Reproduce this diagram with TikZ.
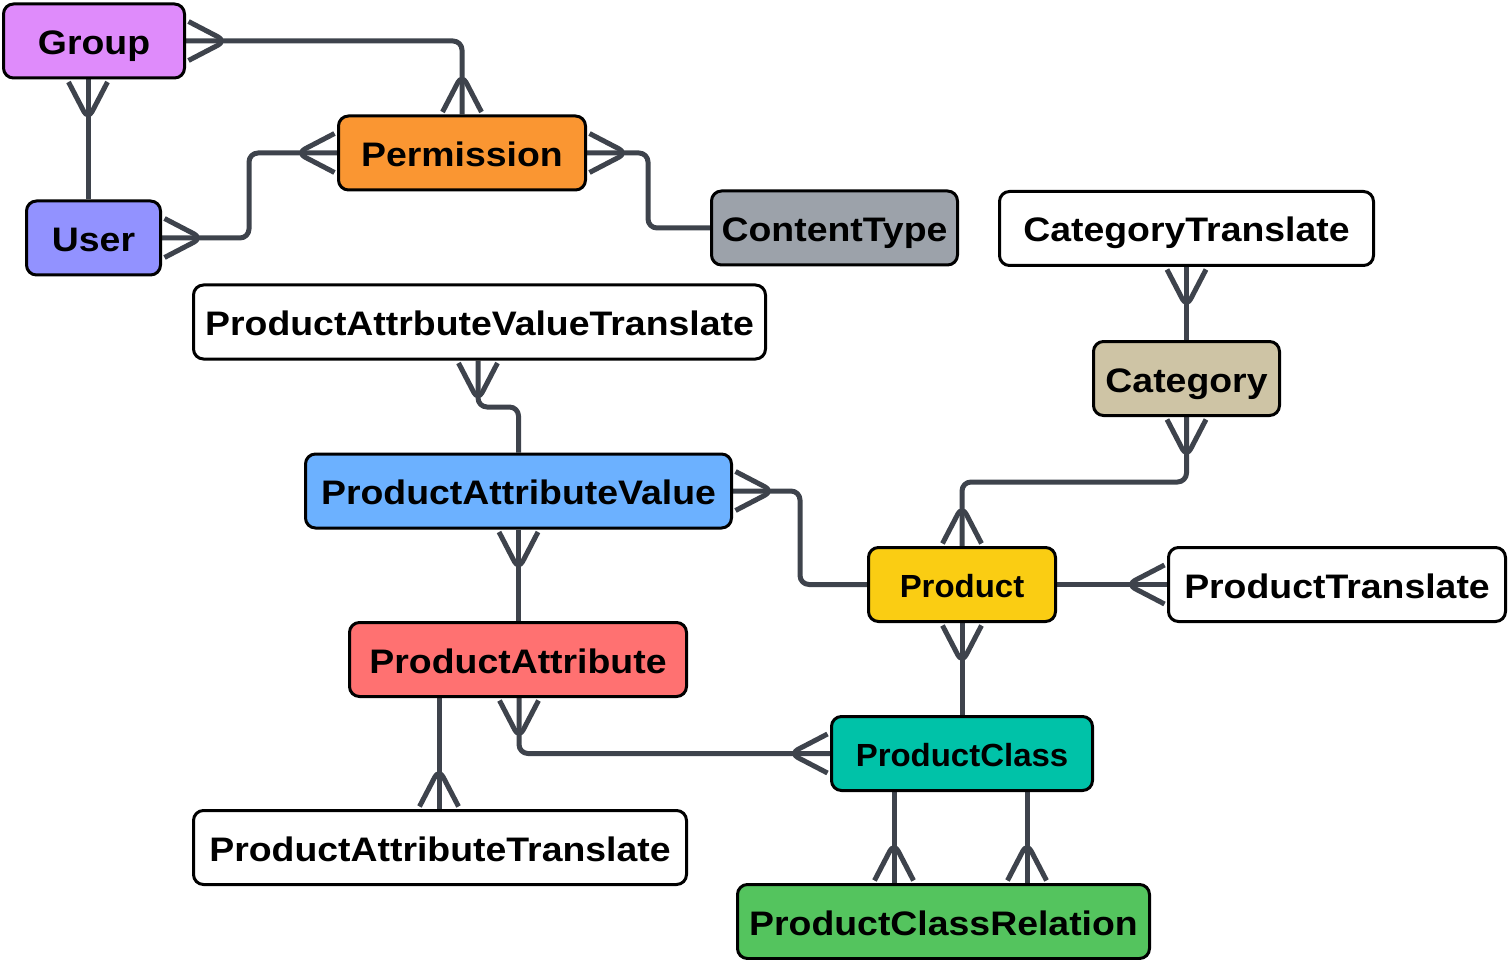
\documentclass[tikz,border=0pt]{standalone}
\usepackage{fontspec}
\newfontfamily\lblfont[FakeStretch=1.1]{Liberation Sans}
\newfontfamily\lblfontn[FakeStretch=1.03]{Liberation Sans}
\usetikzlibrary{backgrounds}
\definecolor{linec}{RGB}{62,67,76}
\definecolor{groupc}{RGB}{223,139,251}
\definecolor{permc}{RGB}{250,150,50}
\definecolor{userc}{RGB}{146,146,255}
\definecolor{ctc}{RGB}{156,162,170}
\definecolor{catc}{RGB}{206,196,165}
\definecolor{pavc}{RGB}{108,177,255}
\definecolor{prodc}{RGB}{250,205,19}
\definecolor{pac}{RGB}{255,113,113}
\definecolor{pcc}{RGB}{0,194,168}
\definecolor{pcrc}{RGB}{84,196,94}
\tikzset{
  entity/.style={draw=black, line width=3pt, rounded corners=10pt, inner sep=0pt,
    minimum height=74pt, text height=27pt, text depth=0pt,
    font=\lblfont\bfseries\fontsize{34}{38}\selectfont},
  smallent/.style={entity, text height=26pt, font=\lblfontn\bfseries\fontsize{32}{36}\selectfont},
  conn/.style={draw=linec, line width=5pt, rounded corners=9pt, line join=round}
}
\newcommand\crowfoot[2]{%
  \begin{scope}[shift={(#1)}, rotate=#2]
    \draw[conn] (2.5,-19.5) -- (40,0) -- (2.5,19.5);
  \end{scope}}
\begin{document}
\begin{tikzpicture}[x=1pt, y=-1pt]
\useasboundingbox (0,0) rectangle (1508,960);
\node[entity, fill=groupc, minimum width=181pt] (group) at (94,41) {Group};
\node[entity, fill=permc, minimum width=247pt] (perm) at (462,153) {Permission};
\node[entity, fill=userc, minimum width=134pt] (user) at (93.5,238) {User};
\node[entity, fill=ctc, minimum width=246pt] (ct) at (834.5,228) {ContentType};
\node[entity, fill=white, minimum width=374pt] (cattr) at (1186.5,228.5) {CategoryTranslate};
\node[entity, fill=white, minimum width=572pt] (pavt) at (479.5,322) {ProductAttrbuteValueTranslate};
\node[entity, fill=catc, minimum width=186pt] (cat) at (1186.5,378.5) {Category};
\node[entity, fill=pavc, minimum width=426pt] (pav) at (518.5,491) {ProductAttributeValue};
\node[smallent, fill=prodc, minimum width=187pt] (prod) at (962,584.5) {Product};
\node[entity, fill=white, minimum width=337pt] (pt) at (1337,584.5) {ProductTranslate};
\node[entity, fill=pac, minimum width=337pt] (pa) at (518,659.5) {ProductAttribute};
\node[smallent, fill=pcc, minimum width=261pt] (pc) at (962,753.5) {ProductClass};
\node[entity, fill=white, minimum width=493pt] (pat) at (440,847.5) {ProductAttributeTranslate};
\node[entity, fill=pcrc, minimum width=412pt] (pcr) at (943.5,921.5) {ProductClassRelation};
\begin{scope}[on background layer]
  % Group - Permission
  \draw[conn] (group.east) -| (perm.north);
  \crowfoot{group.east}{0}
  \crowfoot{perm.north}{90}
  % Group - User
  \draw[conn] (88,0 |- group.south) -- (88,0 |- user.north);
  \crowfoot{88,0 |- group.south}{-90}
  % User - Permission
  \draw[conn] (user.east) -- (249,0 |- user.east) -- (249,0 |- perm.west) -- (perm.west);
  \crowfoot{user.east}{0}
  \crowfoot{perm.west}{180}
  % Permission - ContentType
  \draw[conn] (perm.east) -- (648,0 |- perm.east) -- (648,0 |- ct.west) -- (ct.west);
  \crowfoot{perm.east}{0}
  % CategoryTranslate - Category
  \draw[conn] (cattr.south) -- (cat.north);
  \crowfoot{cattr.south}{-90}
  % PAVT - PAV
  \draw[conn] (478,0 |- pavt.south) -- (478,407) -- (pav.north |- 0,407) -- (pav.north);
  \crowfoot{478,0 |- pavt.south}{-90}
  % PAV - Product
  \draw[conn] (pav.east) -- (800,0 |- pav.east) -- (800,0 |- prod.west) -- (prod.west);
  \crowfoot{pav.east}{0}
  % PAV - ProductAttribute
  \draw[conn] (pav.south) -- (pav.south |- pa.north);
  \crowfoot{pav.south}{-90}
  % Category - Product
  \draw[conn] (cat.south) -- (cat.south |- 0,482) -- (prod.north |- 0,482) -- (prod.north);
  \crowfoot{cat.south}{-90}
  \crowfoot{prod.north}{90}
  % Product - ProductTranslate
  \draw[conn] (prod.east) -- (pt.west);
  \crowfoot{pt.west}{180}
  % Product - ProductClass
  \draw[conn] (prod.south) -- (pc.north);
  \crowfoot{prod.south}{-90}
  % ProductAttribute - ProductClass
  \draw[conn] (519,0 |- pa.south) -- (519,0 |- pc.west) -- (pc.west);
  \crowfoot{519,0 |- pa.south}{-90}
  \crowfoot{pc.west}{180}
  % ProductAttribute - ProductAttributeTranslate
  \draw[conn] (439,0 |- pa.south) -- (439,0 |- pat.north);
  \crowfoot{439,0 |- pat.north}{90}
  % ProductClass - ProductClassRelation
  \draw[conn] (894,0 |- pc.south) -- (894,0 |- pcr.north);
  \crowfoot{894,0 |- pcr.north}{90}
  \draw[conn] (1027,0 |- pc.south) -- (1027,0 |- pcr.north);
  \crowfoot{1027,0 |- pcr.north}{90}
\end{scope}
\end{tikzpicture}
\end{document}
